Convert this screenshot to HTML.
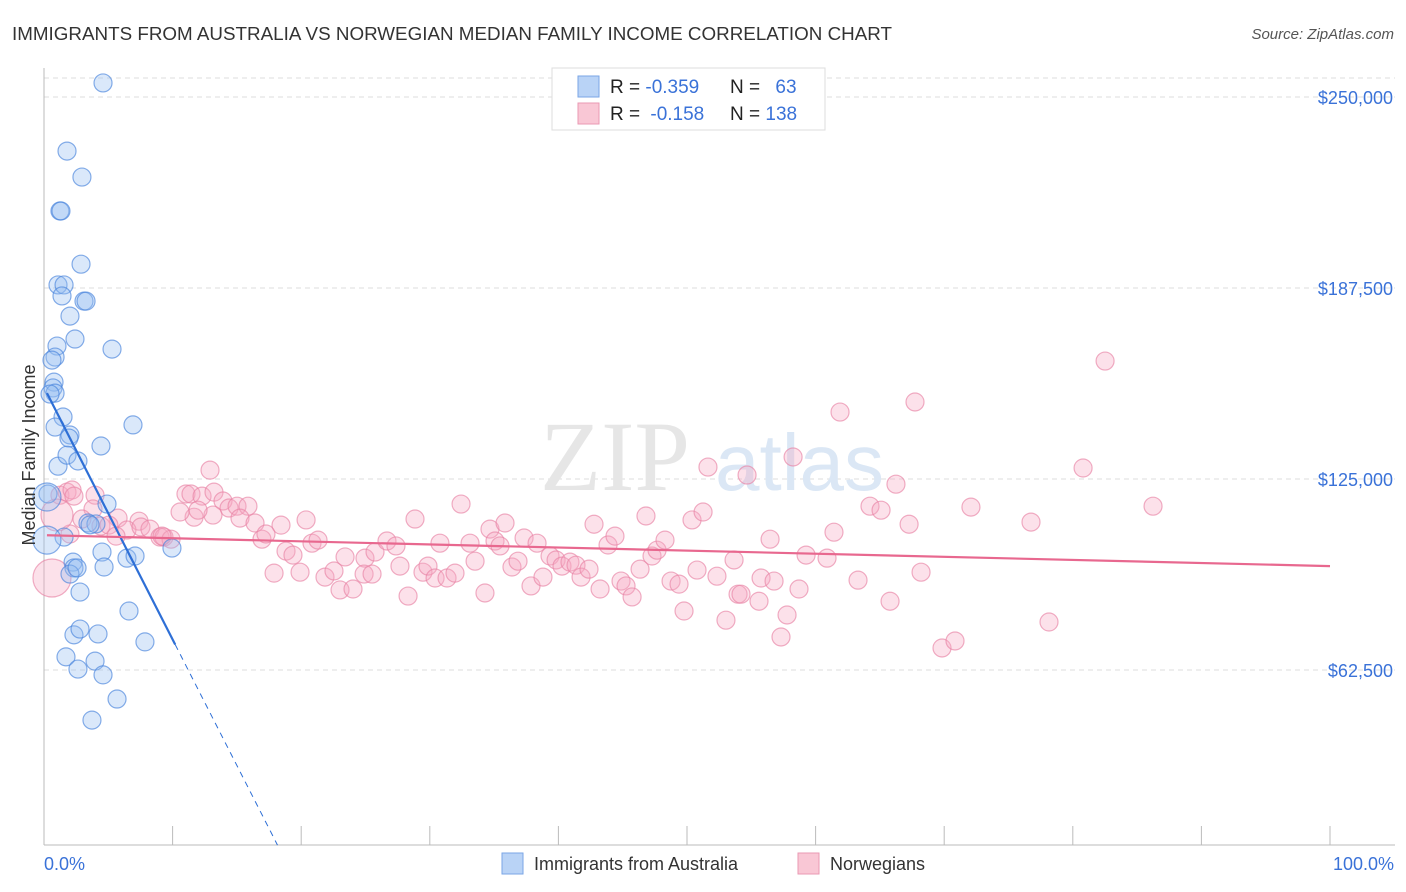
<!DOCTYPE html>
<html><head><meta charset="utf-8">
<style>
body{margin:0;background:#fff;font-family:"Liberation Sans",sans-serif;}
svg{display:block}
</style></head>
<body>
<svg id="chart" width="1406" height="892" viewBox="0 0 1406 892">
<text x="12" y="40" font-size="18" fill="#333" textLength="880" lengthAdjust="spacingAndGlyphs">IMMIGRANTS FROM AUSTRALIA VS NORWEGIAN MEDIAN FAMILY INCOME CORRELATION CHART</text>
<text x="1394" y="39" font-size="15" fill="#555" font-style="italic" text-anchor="end">Source: ZipAtlas.com</text>
<g id="grid"></g>
<text x="690" y="490" font-size="100" fill="#e6e6e6" text-anchor="end" font-family="Liberation Serif">ZIP</text>
<text x="715" y="490" font-size="80" fill="#dbe7f5">atlas</text>
<g id="pts"></g>
<g id="lines"></g>
<text x="35" y="455" font-size="18" fill="#333" text-anchor="middle" transform="rotate(-90 35 455)">Median Family Income</text>
<text x="44" y="870" font-size="18" fill="#3a72d8">0.0%</text>
<text x="1394" y="870" font-size="18" fill="#3a72d8" text-anchor="end">100.0%</text>
<g>
<rect x="552" y="68" width="273" height="62" fill="#fff" stroke="#ddd"/>
<rect x="578" y="76" width="21" height="21" fill="#b9d3f6" stroke="#7aa6e6"/>
<rect x="578" y="103" width="21" height="21" fill="#f9c7d5" stroke="#ea99b3"/>
<text x="610" y="93" font-size="19" fill="#222">R = <tspan fill="#3a72d8">-0.359</tspan></text>
<text x="730" y="93" font-size="19" fill="#222">N = <tspan fill="#3a72d8" dx="10">63</tspan></text>
<text x="610" y="120" font-size="19" fill="#222">R = <tspan fill="#3a72d8" dx="5">-0.158</tspan></text>
<text x="730" y="120" font-size="19" fill="#222">N = <tspan fill="#3a72d8">138</tspan></text>
</g>
<g>
<rect x="502" y="853" width="21" height="21" fill="#b9d3f6" stroke="#7aa6e6"/>
<text x="534" y="870" font-size="18" fill="#333">Immigrants from Australia</text>
<rect x="798" y="853" width="21" height="21" fill="#f9c7d5" stroke="#ea99b3"/>
<text x="830" y="870" font-size="18" fill="#333">Norwegians</text>
</g>
</svg>
<script>
const yTicks=[62500,125000,187500,250000];
const yTickLabels=["$62,500","$125,000","$187,500","$250,000"];
const blueX=[4.59,1.79,2.95,1.24,1.32,2.88,1.09,1.56,1.40,3.11,3.27,2.02,2.41,5.29,1.01,0.86,0.62,0.78,0.70,0.86,0.47,1.48,0.86,6.92,2.02,1.94,4.43,1.09,1.79,2.64,0.31,4.90,3.42,4.04,3.58,1.56,4.51,6.45,9.95,7.08,2.26,2.33,2.02,2.57,4.67,2.80,6.61,7.85,2.33,4.20,2.80,1.71,3.97,2.64,4.59,5.68,3.73,0.23,0.23];
const blueY=[254.6,232.3,223.8,212.7,212.7,195.3,188.5,188.5,184.9,183.2,183.2,178.3,170.8,167.5,168.5,164.9,163.9,156.7,154.8,153.1,152.8,145.3,142,142.7,139.4,138.4,135.8,129.2,132.8,130.9,120.1,116.8,110.6,110.3,110,106,101.1,99.1,102.4,99.8,97.8,95.9,93.9,95.9,96.2,88,81.8,71.7,74,74.3,75.9,66.8,65.4,62.8,60.9,53,46.1,105,119.1];
const pinkX=[1.24,1.79,2.18,2.33,3.97,3.81,2.95,2.02,5.76,7.39,4.43,5.05,6.45,5.60,7.54,8.24,9.02,9.33,11.04,11.43,12.91,12.29,13.22,13.92,14.39,15.01,15.86,13.14,11.67,10.58,9.88,9.18,11.98,15.24,16.41,16.95,18.43,17.26,18.82,19.36,17.89,19.91,20.38,20.84,21.31,21.85,22.55,23.02,24.03,23.41,24.96,24.89,25.51,25.74,26.67,27.37,27.68,28.31,28.85,29.47,29.86,30.41,31.34,31.96,30.79,32.43,33.13,33.52,34.29,34.68,35.07,35.46,35.85,36.39,36.86,37.33,37.87,38.34,38.80,39.35,39.82,40.28,40.90,41.37,41.76,42.38,43.24,42.77,43.86,44.40,44.87,45.26,45.73,46.35,46.81,47.28,47.67,48.29,48.76,49.38,49.77,50.39,50.78,51.25,51.63,52.33,53.03,53.66,53.97,54.20,54.67,55.60,55.76,56.46,56.77,57.31,57.78,58.25,58.71,59.26,61.43,61.90,60.89,63.3,64.23,65.09,65.79,66.25,67.27,67.73,68.2,69.83,70.84,72.08,76.75,78.15,80.8,82.51,86.24,0.62,1.01];
const pinkY=[119.7,120.7,121.4,119.4,119.7,115.2,111.9,107,112.2,111.2,109.6,109.9,108.3,106.3,109.3,108.6,106,106,120.1,120.1,127.9,119.4,120.7,117.8,115.5,116.1,116.1,113.2,112.5,114.2,105.3,106.3,114.8,112.2,110.6,105.3,109.9,107,101.4,100.1,94.2,94.5,111.6,104,105,92.9,94.9,88.7,89,99.5,99.1,93.9,93.9,101.1,104.7,103.1,96.5,86.7,111.9,94.5,96.5,92.6,92.6,94.2,104,116.8,104,98.1,87.7,108.6,104.7,103.1,110.6,96.2,98.1,105.7,90,104,92.9,99.8,98.5,96.5,97.8,96.8,92.9,95.5,89,110.2,103.4,106.3,91.6,90,86.4,95.5,112.9,99.8,101.7,105,91.6,90.6,81.8,111.6,95.2,114.2,128.9,93.2,78.8,98.5,87.3,87.3,126.3,85,92.6,105.3,91.6,73.3,80.5,132.2,89,100.1,107.6,146.9,99.1,91.9,116.1,114.8,85,123.3,110.2,150.2,94.5,69.7,72,115.8,110.9,78.2,128.6,163.6,116.1,92.6,113.2];
const blueTrend=[155,-8.25];
const pinkTrend=[106.6,96.5];

const NS="http://www.w3.org/2000/svg";
const X0=44,X1=1330,YB=845;
const sx=p=>X0+p*(X1-X0)/100;
const sy=v=>670-(v-62.5)*191/62.5;
function mk(tag,attrs,parent){const e=document.createElementNS(NS,tag);for(const k in attrs)e.setAttribute(k,attrs[k]);parent.appendChild(e);return e;}
const grid=document.getElementById('grid'),pts=document.getElementById('pts'),lines=document.getElementById('lines');
let g=mk('line',{x1:44,x2:1395,y1:78,y2:78,stroke:'#ddd','stroke-dasharray':'5,4'},grid);


yTicks.forEach((t,i)=>{
 const y=sy(t/1000);
 const l=mk('line',{x1:44,x2:1395,y1:y,y2:y,stroke:'#ddd','stroke-dasharray':'5,4'},grid);
 
 
 const tx=mk('text',{x:1393,y:y+7,'font-size':18,fill:'#3a72d8','text-anchor':'end'},grid);
 tx.textContent=yTickLabels[i];
 
 
});
let ax=mk('line',{x1:44,x2:44,y1:68,y2:YB,stroke:'#bbb'},grid);


let bx=mk('line',{x1:44,x2:1395,y1:YB,y2:YB,stroke:'#bbb'},grid);


for(let i=1;i<=10;i++){
 const t=mk('line',{x1:sx(i*10),x2:sx(i*10),y1:826,y2:YB,stroke:'#bbb'},grid);
 
 
}
pinkX.forEach((x,i)=>{
 const n=pinkX.length;
 const r=i==n-2?19:(i==n-1?16:9);
 const c=mk('circle',{cx:sx(x),cy:sy(pinkY[i]),r:r,fill:'rgba(246,170,195,0.35)',stroke:'rgba(232,130,165,0.65)','stroke-width':1.2},pts);
 
 
});
blueX.forEach((x,i)=>{
 const big=i>=blueX.length-2;
 const c=mk('circle',{cx:sx(x),cy:sy(blueY[i]),r:big?14:9,fill:'rgba(150,190,240,0.35)',stroke:'rgba(70,130,220,0.65)','stroke-width':1.2},pts);
 
 
});
const bv=x=>blueTrend[0]+blueTrend[1]*x;
let xEnd=(5.2-blueTrend[0])/blueTrend[1];
let bl=mk('line',{x1:sx(0.23),y1:sy(bv(0.23)),x2:sx(10.2),y2:sy(bv(10.2)),stroke:'#2e6fd6','stroke-width':2.2},lines);


let bd=mk('line',{x1:sx(10.2),y1:sy(bv(10.2)),x2:sx(xEnd),y2:sy(bv(xEnd)),stroke:'#2e6fd6','stroke-width':1,'stroke-dasharray':'6,5'},lines);


let pl=mk('line',{x1:sx(0.23),y1:sy(pinkTrend[0]),x2:sx(100),y2:sy(pinkTrend[1]),stroke:'#e8688f','stroke-width':2.2},lines);


</script>
</body></html>
